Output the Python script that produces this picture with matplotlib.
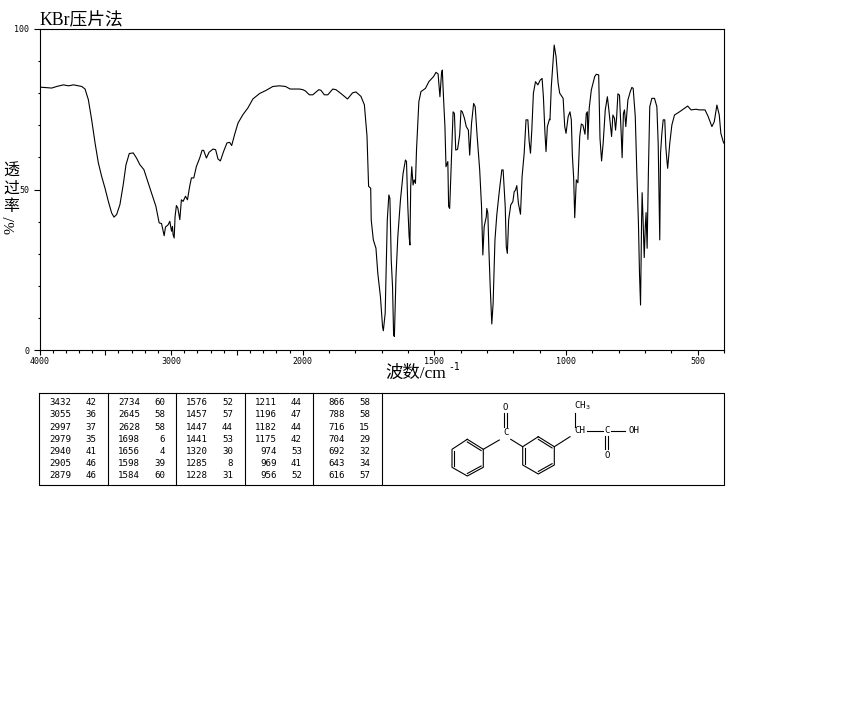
import numpy as np
import matplotlib
matplotlib.use('Agg')
import matplotlib.pyplot as plt

# spectrum, wavenumber (cm-1) and % transmittance
wavenumber = [
    4000, 3944, 3907, 3869, 3818, 3780, 3742, 3679, 3654, 3629, 3604, 3578, 3553, 3528, 3503, 3477,
    3452, 3434, 3414, 3389, 3364, 3343, 3318, 3288, 3263, 3237, 3207, 3174, 3149, 3116, 3091, 3073,
    3053, 3043, 3023, 3010, 2997, 2990, 2985, 2977, 2970, 2960, 2949, 2934, 2922, 2909, 2891, 2876,
    2859, 2846, 2828, 2808, 2783, 2765, 2753, 2732, 2712, 2682, 2662, 2644, 2626, 2601, 2576, 2556,
    2540, 2518, 2492, 2455, 2417, 2379, 2328, 2278, 2227, 2177, 2131, 2096, 2025, 2000, 1990, 1975,
    1962, 1939, 1931, 1918, 1905, 1886, 1874, 1855, 1830, 1811, 1798, 1779, 1766, 1756, 1750, 1742,
    1740, 1732, 1722, 1715, 1705, 1697, 1694, 1687, 1679, 1673, 1669, 1664, 1659, 1655, 1652, 1646,
    1639, 1629, 1619, 1610, 1606, 1601, 1596, 1593, 1590, 1586, 1581, 1577, 1572, 1568, 1559, 1551,
    1534, 1521, 1503, 1494, 1486, 1479, 1473, 1470, 1465, 1460, 1456, 1449, 1446, 1442, 1436, 1429,
    1424, 1419, 1412, 1404, 1399, 1394, 1386, 1379, 1371, 1366, 1359, 1351, 1345, 1338, 1328, 1321,
    1318, 1316, 1311, 1303, 1301, 1297, 1293, 1288, 1282, 1277, 1270, 1263, 1253, 1244, 1239, 1231,
    1227, 1223, 1218, 1210, 1202, 1197, 1192, 1187, 1181, 1173, 1167, 1159, 1152, 1145, 1140, 1135,
    1130, 1124, 1116, 1107, 1098, 1091, 1086, 1080, 1076, 1071, 1063, 1061, 1056, 1045, 1038, 1030,
    1024, 1011, 1005, 1000, 992, 985, 980, 976, 971, 967, 961, 955, 948, 942, 936, 928,
    923, 919, 917, 912, 904, 891, 885, 876, 871, 865, 859, 851, 843, 838, 832, 827,
    822, 816, 812, 808, 803, 797, 790, 787, 782, 778, 773, 765, 756, 750, 745, 737,
    731, 725, 721, 717, 713, 711, 707, 703, 699, 696, 692, 687, 682, 674, 664, 655,
    650, 644, 641, 636, 631, 625, 621, 617, 614, 606, 598, 588, 569, 550, 538, 525,
    506, 494, 472, 460, 446, 437, 427, 418, 412, 403, 400,
]
transmittance = [
    81.9, 81.7, 81.6, 82.1, 82.6, 82.3, 82.6, 82.1, 81.3, 78.0, 71.8, 64.5, 58.3, 54.1, 50.5, 46.3,
    42.7, 41.4, 42.2, 45.3, 51.5, 57.7, 61.2, 61.4, 59.8, 57.7, 56.2, 52.0, 48.9, 44.8, 39.6, 39.4,
    35.6, 38.3, 39.0, 40.1, 37.0, 38.5, 35.9, 34.9, 41.6, 45.0, 44.2, 40.6, 46.8, 46.3, 47.9, 46.8,
    51.0, 53.6, 53.6, 57.2, 59.8, 62.2, 62.2, 59.8, 61.6, 62.6, 62.4, 59.5, 58.9, 61.9, 64.5, 64.7,
    63.7, 67.1, 70.7, 73.3, 75.4, 78.2, 79.9, 80.9, 82.1, 82.3, 82.1, 81.3, 81.3, 81.1, 80.7, 79.5,
    79.5, 81.1, 80.9, 79.5, 79.5, 81.3, 81.1, 79.9, 78.2, 80.1, 80.4, 79.0, 76.4, 66.6, 51.0, 50.4,
    40.5, 34.3, 31.7, 23.9, 16.6, 7.3, 6.0, 11.4, 40.5, 48.3, 47.2, 28.0, 19.7, 4.7, 4.2, 22.8,
    35.3, 46.7, 55.0, 59.2, 58.7, 44.7, 35.3, 32.7, 50.9, 57.1, 51.4, 53.0, 51.9, 62.3, 77.4, 80.5,
    81.5, 83.6, 85.2, 86.5, 86.0, 78.9, 86.2, 87.2, 77.9, 69.6, 57.1, 58.7, 44.7, 44.1, 57.6, 74.2,
    73.7, 62.3, 62.5, 67.0, 74.6, 74.2, 72.2, 69.6, 68.5, 60.7, 70.6, 76.8, 75.8, 67.0, 56.1, 44.7,
    35.3, 29.6, 38.4, 41.5, 44.1, 42.6, 31.2, 19.7, 8.1, 14.5, 34.3, 42.1, 49.8, 56.1, 56.1, 44.7,
    32.2, 30.1, 40.5, 45.2, 46.2, 49.3, 49.8, 51.2, 45.7, 42.3, 54.0, 61.3, 71.7, 71.7, 64.9, 61.3,
    68.5, 80.0, 83.6, 82.6, 84.1, 84.6, 78.9, 67.5, 61.8, 69.6, 71.9, 71.7, 82.0, 95.0, 91.4, 83.1,
    80.0, 78.4, 69.6, 67.5, 72.7, 74.2, 71.7, 60.7, 53.5, 41.2, 53.0, 52.1, 66.5, 70.4, 70.1, 67.2,
    73.7, 74.2, 65.6, 75.3, 81.0, 85.2, 85.9, 85.7, 65.9, 58.9, 64.4, 74.8, 78.9, 75.3, 70.6, 66.5,
    73.2, 72.2, 68.5, 72.2, 79.8, 79.4, 66.5, 59.9, 73.7, 74.8, 69.6, 77.9, 80.5, 81.8, 81.5, 72.7,
    55.0, 39.5, 23.9, 14.0, 40.5, 49.0, 39.5, 28.8, 38.4, 42.8, 31.7, 56.1, 75.8, 78.4, 78.4, 75.8,
    64.4, 34.3, 61.3, 67.5, 71.7, 71.7, 63.3, 59.2, 56.6, 64.4, 70.1, 73.2, 74.2, 75.3, 76.0, 74.8,
    75.0, 74.8, 74.8, 72.7, 69.6, 71.1, 76.3, 73.2, 67.5, 64.9, 64.4,
]

# peak table, one list per column block
peak_wn = [
    [3432, 3055, 2997, 2979, 2940, 2905, 2879],
    [2734, 2645, 2628, 1698, 1656, 1598, 1584],
    [1576, 1457, 1447, 1441, 1320, 1285, 1228],
    [1211, 1196, 1182, 1175, 974, 969, 956],
    [866, 788, 716, 704, 692, 643, 616],
]
peak_t = [
    [42, 36, 37, 35, 41, 46, 46],
    [60, 58, 58, 6, 4, 39, 60],
    [52, 57, 44, 53, 30, 8, 31],
    [44, 47, 44, 42, 53, 41, 52],
    [58, 58, 15, 29, 32, 34, 57],
]

x_major = [4000, 3500, 3000, 2500, 2000, 1500, 1000, 500]
x_major_labels = ['4000', '', '3000', '', '2000', '1500', '1000', '500']
y_major = [0, 50, 100]

W, H = 850, 709
LW = 0.8
CJK = ['Noto Sans CJK SC', 'DejaVu Sans']
SERIF_CJK = ['Liberation Serif', 'Noto Sans CJK SC']

fig = plt.figure(figsize=(W / 100, H / 100), dpi=100)
ax = fig.add_axes([39.5 / W, 1 - 350 / H, 684.5 / W, 321 / H])


# the x axis is stretched twofold below 2000 cm-1
def x_forward(x):
    return np.interp(x, [400, 2000, 4000], [0, 1600, 2600])


def x_inverse(x):
    return np.interp(x, [0, 1600, 2600], [400, 2000, 4000])


ax.set_xscale('function', functions=(x_forward, x_inverse))
ax.plot(wavenumber, transmittance, color='black', lw=LW)
ax.set_xlim(4000, 400)
ax.set_ylim(0, 100)

ax.set_xticks(x_major)
ax.set_xticklabels(x_major_labels, fontsize=6, family='DejaVu Sans Mono')
ax.set_xticks(np.arange(400, 4000, 100), minor=True)
ax.set_yticks(y_major)
ax.set_yticklabels([str(v) for v in y_major], fontsize=6, family='DejaVu Sans Mono')
ax.set_yticks(np.arange(0, 101, 10), minor=True)
ax.tick_params(axis='x', which='major', length=3.6, width=LW, pad=1.5)
ax.tick_params(axis='x', which='minor', length=1.8, width=LW)
ax.tick_params(axis='y', which='major', length=4.3, width=LW, pad=3)
ax.tick_params(axis='y', which='minor', length=1.6, width=LW)
for spine in ax.spines.values():
    spine.set_linewidth(LW)

# overlay in image pixels for the labels, table and structure
pix = fig.add_axes([0, 0, 1, 1])
pix.set_xlim(0, W)
pix.set_ylim(H, 0)
pix.axis('off')
pix.patch.set_alpha(0)

pix.text(39, 20.5, 'KBr压片法', fontsize=12.8, family=SERIF_CJK, ha='left', va='center')
pix.text(385, 373.5, '波数/cm', fontsize=12.5, family=SERIF_CJK, ha='left', va='center')
pix.text(448, 367, '-1', fontsize=7, family='DejaVu Sans Mono', ha='left', va='center')

for label, y in zip('透过率', [171, 188, 207]):
    pix.text(11, y, label, fontsize=11.5, family=CJK, ha='center', va='center')
pix.text(11, 219, '/', fontsize=12, family='Liberation Serif', rotation=90, ha='center', va='center')
pix.text(11, 228, '%', fontsize=11, family='Liberation Serif', rotation=90, ha='center', va='center')

# peak table
table_left, table_right, table_top, table_bottom = 39.5, 724, 393, 485
column_left = [39.5, 108, 176, 245, 313]
row_y = [402.3, 414.3, 427, 439, 451, 463.7, 475.7]
pix.plot([table_left, table_right, table_right, table_left, table_left],
         [table_top, table_top, table_bottom, table_bottom, table_top], color='black', lw=LW)
for x in column_left[1:] + [382]:
    pix.plot([x, x], [table_top, table_bottom], color='black', lw=LW)
for left, wns, ts in zip(column_left, peak_wn, peak_t):
    for y, wn, t in zip(row_y, wns, ts):
        pix.text(left + 32, y, str(wn), fontsize=6.6, family='DejaVu Sans Mono', ha='right', va='center')
        pix.text(left + 57, y, str(t), fontsize=6.6, family='DejaVu Sans Mono', ha='right', va='center')


# structure of the compound
def draw_ring(verts, double_edges):
    verts = np.array(verts)
    centre = verts.mean(axis=0)
    closed = np.vstack([verts, verts[0]])
    pix.plot(closed[:, 0], closed[:, 1], color='black', lw=LW)
    for i in double_edges:
        a = verts[i] + (centre - verts[i]) * 0.14
        b = verts[(i + 1) % 6] + (centre - verts[(i + 1) % 6]) * 0.14
        pix.plot([a[0], b[0]], [a[1], b[1]], color='black', lw=LW)


draw_ring([(467.3, 439.3), (483.3, 449.3), (483.3, 467.3), (467.3, 476), (452, 467.3), (452, 449.3)], [0, 2, 4])
draw_ring([(538.3, 436.7), (554.3, 446.7), (554.3, 465), (538.3, 474), (522.7, 465), (522.7, 446.7)], [0, 2, 4])

bonds = [
    ((483.3, 449.3), (499.3, 440)),
    ((510.7, 439.3), (522.7, 446.7)),
    ((504, 426.7), (504, 413.3)),
    ((506.7, 426.7), (506.7, 413.3)),
    ((554.3, 446.7), (570, 436.7)),
    ((575, 426.7), (575, 413.3)),
    ((586.7, 430.7), (602.7, 430.7)),
    ((610.7, 430.7), (625, 430.7)),
    ((605.3, 435.7), (605.3, 449.3)),
    ((608, 435.7), (608, 449.3)),
]
for a, b in bonds:
    pix.plot([a[0], b[0]], [a[1], b[1]], color='black', lw=LW)

atoms = [
    (505.7, 407.3, 'O'), (505.7, 432.3, 'C'), (580, 430.7, 'CH'), (606.7, 430.7, 'C'),
    (634.3, 430.7, 'OH'), (607.3, 455.7, 'O'),
]
for x, y, label in atoms:
    pix.text(x, y, label, fontsize=6.6, family='DejaVu Sans Mono', ha='center', va='center')
pix.text(582.7, 405.7, 'CH$_3$', fontsize=6.6, family='DejaVu Sans Mono', ha='center', va='center',
         math_fontfamily='dejavusans')

fig.savefig('out.png', dpi=100)
